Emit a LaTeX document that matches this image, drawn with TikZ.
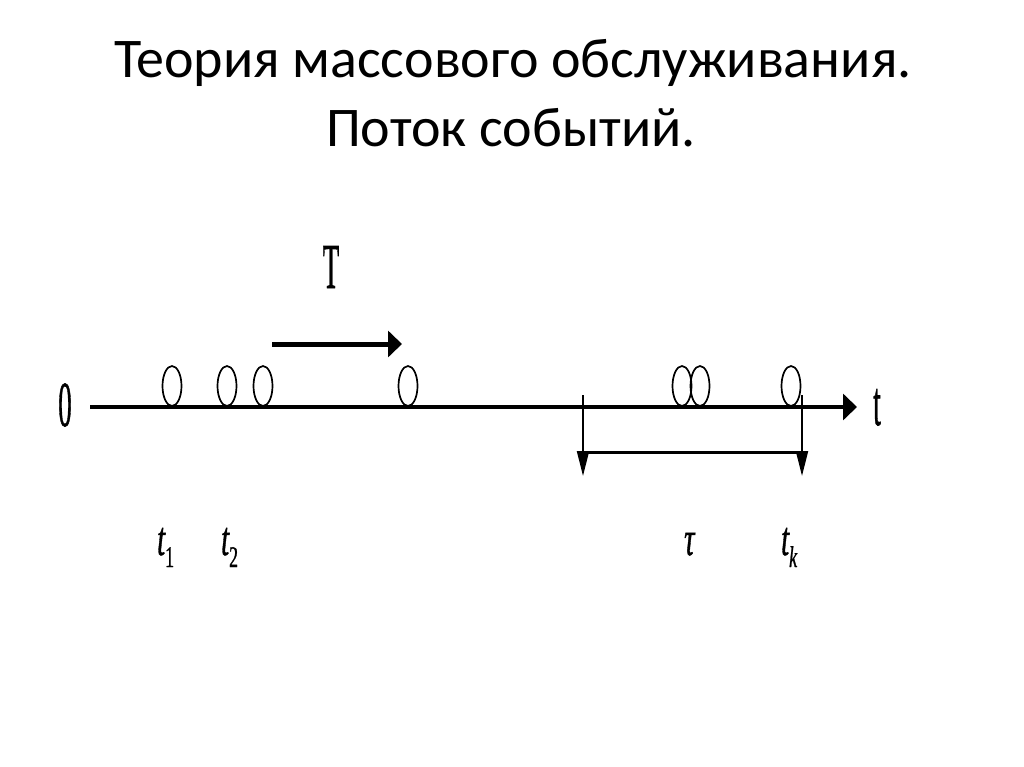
\documentclass[tikz,border=0pt]{standalone}
\usepackage{fontspec}
\setmainfont{Liberation Serif}
\newfontfamily\titlefont{Carlito}
\newfontfamily\labfont[FakeBold=1.2]{Liberation Serif}
\usetikzlibrary{arrows.meta,shapes.geometric}
\begin{document}
\begin{tikzpicture}[x=1pt,y=-1pt,
  ev/.style={draw,ellipse,line width=1.7pt,minimum width=19pt,minimum height=40pt,inner sep=0pt},
  biglab/.style={font=\labfont\fontsize{64}{64}\selectfont,xscale=0.42,inner sep=0pt,anchor=base},
  itlab/.style={font=\labfont\fontsize{48}{48}\selectfont\itshape,xscale=0.6,inner sep=0pt,anchor=base west},
  ttl/.style={font=\titlefont\fontsize{56}{60}\selectfont,inner sep=0pt,anchor=base},
  axis/.style={line width=4.5pt,-{Triangle[length=14pt,width=26pt]}},
  brk/.style={line width=2pt,-{Triangle[length=25pt,width=12pt]}},
]
\useasboundingbox[fill=white] (0,0) rectangle (1024,767);
% title
\node[ttl] (title1) at (513,78) {Теория массового обслуживания.};
\node[ttl] (title2) at (511,147) {Поток событий.};
% axis
\coordinate (ax0) at (90,407);
\coordinate (ax1) at (857,407);
\draw[axis] (ax0) -- (ax1);
\node[biglab] (zero) at (65,426) {0};
\node[biglab] (tlab) at (877,425) {t};
% T arrow
\coordinate (ta0) at (272,344);
\coordinate (ta1) at (402,344);
\draw[axis,line width=5pt] (ta0) -- (ta1);
\node[biglab] (Tlab) at (331,288) {T};
% events
\node[ev] (e1) at (172,386) {};
\node[ev] (e2) at (227,386) {};
\node[ev] (e3) at (263,386) {};
\node[ev] (e4) at (408,386) {};
\node[ev] (e5) at (682,386) {};
\node[ev] (e6) at (700,386) {};
\node[ev] (e7) at (791,386) {};
% bracket
\coordinate (bl0) at (583,395);
\coordinate (bl1) at (583,476);
\coordinate (br0) at (802,395);
\coordinate (br1) at (802,476);
\coordinate (hl) at (583,452);
\coordinate (hr) at (802,452);
\draw[brk] (bl0) -- (bl1);
\draw[brk] (br0) -- (br1);
\draw[line width=3pt] (hl) -- (hr);
% labels
\node[itlab] (t1) at (157,555) {t\raisebox{-12pt}{\fontsize{30}{30}\selectfont\upshape 1}};
\node[itlab] (t2) at (221,555) {t\raisebox{-12pt}{\fontsize{30}{30}\selectfont\upshape 2}};
\node[itlab] (tau) at (684,555) {τ};
\node[itlab] (tk) at (781,555) {t\raisebox{-12pt}{\fontsize{30}{30}\selectfont k}};
\end{tikzpicture}
\end{document}
